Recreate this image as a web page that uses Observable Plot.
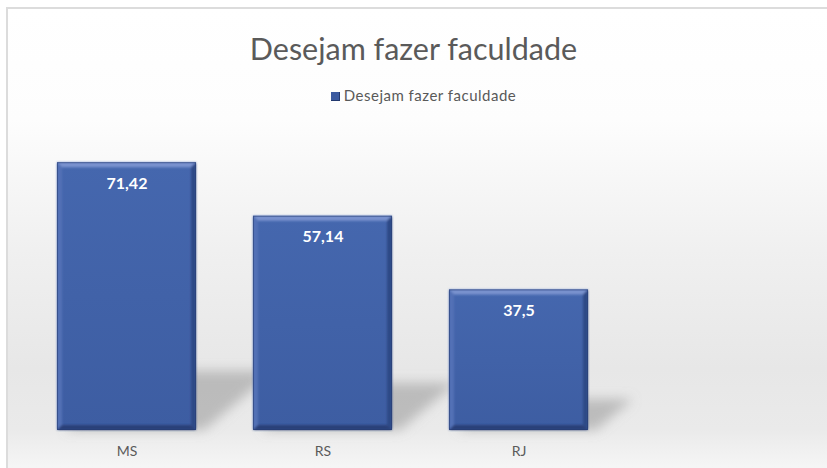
<!DOCTYPE html>
<html>
<head>
<meta charset="utf-8">
<script src="https://cdn.jsdelivr.net/npm/d3@7"></script>
<script src="https://cdn.jsdelivr.net/npm/@observablehq/plot@0.6"></script>
<style>
html,body{margin:0;padding:0;width:827px;height:468px;overflow:hidden;background:#ffffff;}
#frame{position:absolute;left:6px;top:7px;width:840px;height:480px;box-sizing:border-box;
  border-top:2px solid #dcdcdc;border-left:2px solid #dcdcdc;
  background:linear-gradient(180deg,#ffffff 0px,#fdfdfd 110px,#f0f0f0 240px,#e7e7e7 360px,#eaeaea 420px,#f6f6f6 461px);z-index:0;}
#wrap{position:relative;z-index:1;width:827px;}
#title{height:45px;padding-top:30px;line-height:36px;text-align:center;font-family:Lato,"Open Sans",sans-serif;font-size:30.5px;color:#5a5a5a;}
#legend{height:25px;padding-top:10px;padding-left:20px;line-height:20px;text-align:center;font-family:Lato,"Open Sans",sans-serif;font-size:15px;letter-spacing:0.5px;color:#595959;}
#legend .sw{display:inline-block;width:8px;height:8px;background:#3b5aa0;border-right:1px solid #22386e;border-bottom:1px solid #22386e;margin-right:4px;vertical-align:0px;}
#chart svg{display:block;}
</style>
</head>
<body>
<div id="frame"></div>
<div id="wrap">
  <div id="title">Desejam fazer faculdade</div>
  <div id="legend"><span class="sw"></span>Desejam fazer faculdade</div>
  <div id="chart"></div>
</div>
<script>
const categories = ["MS", "RS", "RJ"];
const values = [71.42, 57.14, 37.5];
const seriesName = "Desejam fazer faculdade";

const data = categories.map((c, i) => ({cat: c, value: values[i]}));
const fmt = v => String(v).replace(".", ",");

const svg = Plot.plot({
  width: 827,
  height: 358,
  marginTop: 20,
  marginBottom: 38,
  marginLeft: 0,
  marginRight: 0,
  style: {background: "transparent", color: "#5a5a5a", fontFamily: "Lato, 'Open Sans', sans-serif", fontSize: "14px", overflow: "visible"},
  x: {domain: categories, range: [56, 588], paddingInner: 0.293, paddingOuter: 0, tickSize: 0, tickPadding: 16, label: null},
  y: {domain: [0, 80], axis: null},
  marks: [
    Plot.barY(data, {x: "cat", y1: 0, y2: d => d.value * 0.22, fill: "#8f8f8f", fillOpacity: 0.5, dx: 8}),
    Plot.barY(data, {x: "cat", y: "value", fill: "url(#barGrad)"}),
    Plot.text(data, {x: "cat", y: "value", text: d => fmt(d.value), dy: 21, fill: "white", fontWeight: "bold", fontSize: 16, fontFamily: "Lato, 'Open Sans', sans-serif"})
  ]
});

const sel = d3.select(svg);
const defs = sel.insert("defs", ":first-child");
const g = defs.append("linearGradient").attr("id", "barGrad").attr("x1", 0).attr("y1", 0).attr("x2", 0).attr("y2", 1);
g.append("stop").attr("offset", "0%").attr("stop-color", "#4567ae");
g.append("stop").attr("offset", "100%").attr("stop-color", "#3d5da2");
const f = defs.append("filter").attr("id", "shBlur").attr("x", "-50%").attr("y", "-50%").attr("width", "200%").attr("height", "200%");
f.append("feGaussianBlur").attr("stdDeviation", 6);
const bf = defs.append("filter").attr("id", "bevBlur").attr("x", "-10%").attr("y", "-10%").attr("width", "120%").attr("height", "120%");
bf.append("feGaussianBlur").attr("stdDeviation", 0.8);

const groups = svg.querySelectorAll('g[aria-label="bar"]');
const shadowG = groups[0], barG = groups[1];
shadowG.setAttribute("filter", "url(#shBlur)");
shadowG.querySelectorAll("rect").forEach(r => {
  const y0 = +r.getAttribute("y") + +r.getAttribute("height");
  r.setAttribute("transform", `translate(0,${y0}) skewX(-50) translate(0,${-y0})`);
});

barG.querySelectorAll("rect").forEach(r => {
  const x = +r.getAttribute("x"), y = +r.getAttribute("y"), w = +r.getAttribute("width"), h = +r.getAttribute("height");
  const b = 5;
  const bev = document.createElementNS("http://www.w3.org/2000/svg", "g");
  bev.setAttribute("filter", "url(#bevBlur)");
  const polys = [
    [[x,y],[x+w,y],[x+w-b,y+b],[x+b,y+b], "#7a93cf"],
    [[x,y],[x+b,y+b],[x+b,y+h-b],[x,y+h], "#5371b6"],
    [[x+w,y],[x+w,y+h],[x+w-b,y+h-b],[x+w-b,y+b], "#2f4886"],
    [[x,y+h],[x+b,y+h-b],[x+w-b,y+h-b],[x+w,y+h], "#2a4078"]
  ];
  polys.forEach(p => {
    const color = p.pop();
    const el = document.createElementNS("http://www.w3.org/2000/svg", "polygon");
    el.setAttribute("points", p.map(q => q.join(",")).join(" "));
    el.setAttribute("fill", color);
    bev.appendChild(el);
  });
  barG.appendChild(bev);
  const outline = document.createElementNS("http://www.w3.org/2000/svg", "rect");
  outline.setAttribute("x", x + 0.5); outline.setAttribute("y", y + 0.5);
  outline.setAttribute("width", w - 1); outline.setAttribute("height", h - 1);
  outline.setAttribute("fill", "none"); outline.setAttribute("stroke", "#1f3161"); outline.setAttribute("stroke-opacity", 0.45);
  barG.appendChild(outline);
});

document.getElementById("chart").appendChild(svg);
</script>
</body>
</html>
